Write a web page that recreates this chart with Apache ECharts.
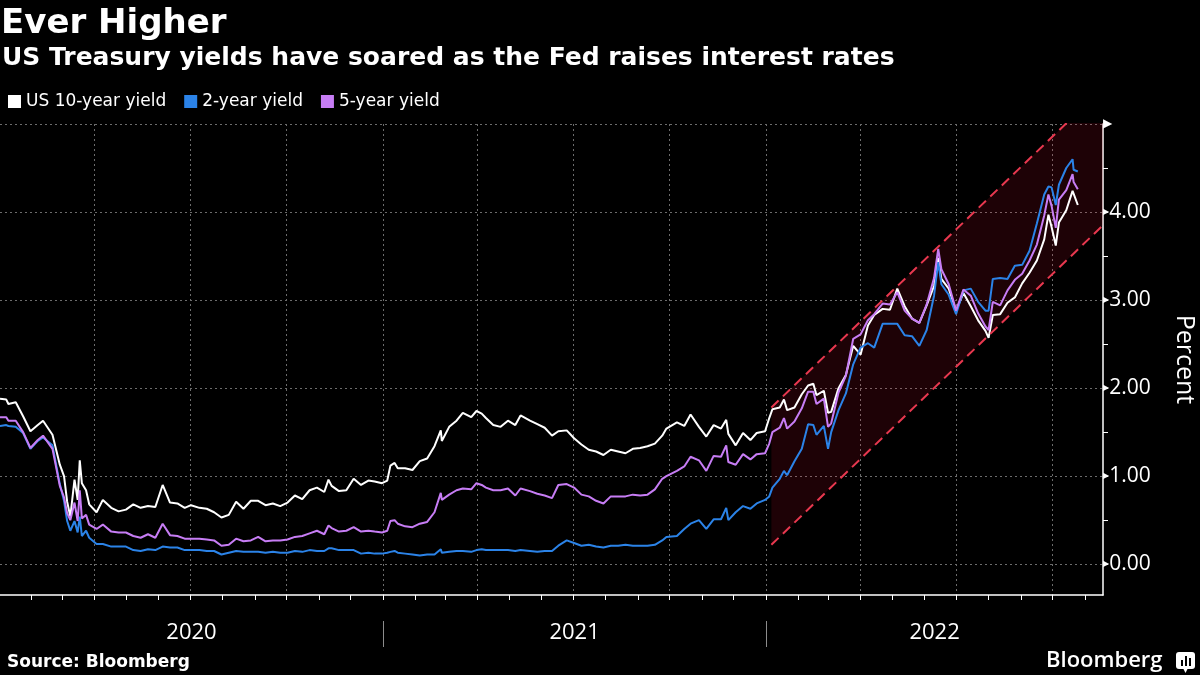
<!DOCTYPE html>
<html><head><meta charset="utf-8">
<script src="https://cdn.jsdelivr.net/npm/echarts@6/dist/echarts.min.js"></script>
<style>html,body{margin:0;padding:0;background:#000}#c{width:1200px;height:675px}</style>
</head><body><div id="c"></div>
<script>
const dates = [
'2020-01-02','2020-01-08','2020-01-10','2020-01-17','2020-01-24','2020-01-31','2020-02-07','2020-02-12','2020-02-21','2020-02-28',
'2020-03-03','2020-03-06','2020-03-09','2020-03-13','2020-03-16','2020-03-18','2020-03-20','2020-03-24','2020-03-27','2020-04-03',
'2020-04-09','2020-04-17','2020-04-24','2020-05-01','2020-05-08','2020-05-15','2020-05-22','2020-05-29','2020-06-05','2020-06-12',
'2020-06-19','2020-06-26','2020-07-02','2020-07-10','2020-07-17','2020-07-24','2020-07-31','2020-08-07','2020-08-14','2020-08-21',
'2020-08-28','2020-09-04','2020-09-11','2020-09-18','2020-09-25','2020-10-02','2020-10-09','2020-10-16','2020-10-23','2020-10-30',
'2020-11-06','2020-11-10','2020-11-13','2020-11-20','2020-11-27','2020-12-04','2020-12-11','2020-12-18','2020-12-24','2020-12-31',
'2021-01-05','2021-01-08','2021-01-12','2021-01-15','2021-01-22','2021-01-29','2021-02-05','2021-02-12','2021-02-19','2021-02-25',
'2021-02-26','2021-03-05','2021-03-12','2021-03-18','2021-03-26','2021-03-31','2021-04-05','2021-04-09','2021-04-16','2021-04-23',
'2021-04-30','2021-05-07','2021-05-12','2021-05-21','2021-05-28','2021-06-04','2021-06-11','2021-06-17','2021-06-25','2021-07-02',
'2021-07-09','2021-07-16','2021-07-23','2021-07-30','2021-08-06','2021-08-13','2021-08-20','2021-08-27','2021-09-03','2021-09-10',
'2021-09-17','2021-09-24','2021-09-28','2021-10-08','2021-10-15','2021-10-21','2021-10-29','2021-11-05','2021-11-12','2021-11-19',
'2021-11-24','2021-11-26','2021-12-03','2021-12-10','2021-12-17','2021-12-23','2021-12-31',
'2022-01-04','2022-01-07','2022-01-14','2022-01-18','2022-01-21','2022-01-28','2022-02-04','2022-02-10','2022-02-15','2022-02-18',
'2022-02-25','2022-03-01','2022-03-04','2022-03-11','2022-03-18','2022-03-25','2022-04-01','2022-04-08','2022-04-14','2022-04-22',
'2022-04-29','2022-05-06','2022-05-13','2022-05-20','2022-05-27','2022-06-03','2022-06-10','2022-06-14','2022-06-17','2022-06-24',
'2022-07-01','2022-07-08','2022-07-15','2022-07-22','2022-07-29','2022-08-01','2022-08-05','2022-08-12','2022-08-19','2022-08-26',
'2022-09-02','2022-09-09','2022-09-16','2022-09-23','2022-09-27','2022-09-30','2022-10-04','2022-10-07','2022-10-14','2022-10-20',
'2022-10-21','2022-10-25'
];
const us10y = [
1.88,1.87,1.82,1.84,1.68,1.51,1.58,1.63,1.47,1.13,
1.00,0.71,0.54,0.96,0.73,1.18,0.92,0.84,0.68,0.59,
0.73,0.64,0.60,0.62,0.68,0.64,0.66,0.65,0.90,0.70,
0.69,0.64,0.67,0.64,0.63,0.59,0.53,0.56,0.71,0.63,
0.72,0.72,0.67,0.69,0.66,0.70,0.78,0.74,0.84,0.87,
0.82,0.96,0.89,0.83,0.84,0.97,0.90,0.95,0.94,0.92,
0.95,1.12,1.15,1.09,1.09,1.07,1.17,1.20,1.34,1.52,
1.40,1.56,1.63,1.72,1.67,1.74,1.71,1.66,1.58,1.56,
1.63,1.58,1.69,1.63,1.59,1.55,1.46,1.51,1.52,1.43,
1.36,1.30,1.28,1.24,1.30,1.28,1.26,1.31,1.32,1.34,
1.37,1.46,1.54,1.61,1.57,1.70,1.56,1.45,1.58,1.54,
1.64,1.48,1.35,1.49,1.41,1.49,1.51,
1.66,1.76,1.78,1.87,1.75,1.78,1.93,2.03,2.05,1.92,
1.97,1.72,1.73,2.00,2.15,2.48,2.38,2.71,2.83,2.90,
2.89,3.13,2.93,2.79,2.74,2.94,3.16,3.48,3.24,3.13,
2.88,3.08,2.93,2.77,2.65,2.57,2.83,2.84,2.97,3.03,
3.19,3.31,3.45,3.69,3.97,3.83,3.62,3.88,4.02,4.24,
4.22,4.08
];
const us2y = [
1.57,1.58,1.57,1.56,1.49,1.31,1.40,1.44,1.35,0.91,
0.72,0.49,0.38,0.49,0.36,0.54,0.32,0.38,0.30,0.23,
0.23,0.20,0.20,0.20,0.16,0.15,0.17,0.16,0.20,0.19,
0.19,0.16,0.16,0.16,0.15,0.15,0.11,0.13,0.15,0.14,
0.14,0.14,0.13,0.14,0.13,0.13,0.15,0.14,0.16,0.15,
0.15,0.18,0.18,0.16,0.16,0.16,0.12,0.13,0.12,0.12,
0.13,0.14,0.15,0.13,0.12,0.11,0.10,0.11,0.11,0.17,
0.13,0.14,0.15,0.15,0.14,0.16,0.17,0.16,0.16,0.16,
0.16,0.15,0.16,0.15,0.14,0.15,0.15,0.21,0.27,0.24,
0.21,0.22,0.20,0.19,0.21,0.21,0.22,0.21,0.21,0.21,
0.22,0.27,0.31,0.32,0.40,0.46,0.50,0.40,0.51,0.51,
0.64,0.50,0.59,0.66,0.63,0.69,0.73,
0.77,0.87,0.97,1.06,1.01,1.17,1.31,1.59,1.58,1.47,
1.57,1.31,1.50,1.75,1.94,2.27,2.46,2.51,2.46,2.73,
2.73,2.73,2.60,2.59,2.48,2.66,3.05,3.43,3.18,3.06,
2.84,3.11,3.13,2.98,2.88,2.88,3.24,3.25,3.24,3.39,
3.40,3.56,3.87,4.20,4.29,4.28,4.08,4.31,4.50,4.60,
4.48,4.46
];
const us5y = [
1.67,1.67,1.63,1.63,1.50,1.32,1.41,1.46,1.31,0.89,
0.76,0.58,0.50,0.70,0.49,0.84,0.52,0.56,0.45,0.40,
0.45,0.37,0.36,0.36,0.32,0.30,0.34,0.30,0.46,0.33,
0.32,0.29,0.29,0.29,0.28,0.27,0.21,0.22,0.29,0.26,
0.27,0.31,0.26,0.27,0.27,0.28,0.31,0.32,0.35,0.38,
0.34,0.44,0.41,0.37,0.38,0.42,0.37,0.38,0.37,0.36,
0.38,0.49,0.50,0.46,0.43,0.42,0.46,0.48,0.59,0.81,
0.73,0.79,0.84,0.86,0.85,0.92,0.90,0.87,0.84,0.84,
0.86,0.78,0.86,0.83,0.80,0.78,0.75,0.90,0.91,0.87,
0.79,0.77,0.72,0.69,0.77,0.77,0.77,0.79,0.78,0.79,
0.85,0.97,1.00,1.06,1.11,1.22,1.18,1.06,1.23,1.22,
1.35,1.16,1.13,1.25,1.19,1.25,1.26,
1.37,1.50,1.55,1.66,1.54,1.62,1.77,1.96,1.96,1.82,
1.88,1.56,1.60,1.95,2.14,2.56,2.61,2.77,2.84,2.96,
2.95,3.09,2.88,2.79,2.74,2.95,3.25,3.58,3.35,3.18,
2.88,3.12,3.05,2.85,2.70,2.66,2.98,2.94,3.11,3.23,
3.30,3.45,3.63,3.96,4.20,4.07,3.82,4.14,4.25,4.43,
4.34,4.26
];
const channelDates = ['2022-01-06', '2022-11-18'];
const channelLow = [0.22, 3.85];
const channelHigh = [1.78, 5.41];
const yearLabels = ['2020', '2021', '2022'];
const yTickValues = [0, 1, 2, 3, 4];

const FF = "'Open Sans', 'Liberation Sans', sans-serif";
const FB = "'DejaVu Sans', sans-serif";
function toTs(s) { const p = s.split('-').map(Number); return new Date(p[0], p[1] - 1, p[2] || 1).getTime(); }
const xMin = toTs('2020-01-02');
const xMax = toTs('2022-11-18');
const monthTicks = [], quarterTicks = [];
for (let y = 2020; y <= 2022; y++) {
  for (let m = 0; m < 12; m++) {
    const t = new Date(y, m, 1).getTime();
    if (t <= xMin || t > xMax) continue;
    monthTicks.push(t);
    if (m % 3 === 0) quarterTicks.push(t);
  }
}
const yearBounds = [toTs('2021-01-01'), toTs('2022-01-01')];
const yearMids = yearLabels.map(y => {
  const a = Math.max(toTs(y + '-01-01'), xMin);
  const b = Math.min(toTs((+y + 1) + '-01-01'), xMax);
  return Math.round((a + b) / 2);
});
const mk = arr => dates.map((d, i) => [toTs(d), arr[i]]);
const dotted = { color: '#6c6c6c', type: [2, 3], width: 1 };
const RED = '#e8384f';
const hiddenX = { axisLine: { show: false, onZero: false }, axisLabel: { show: false }, splitLine: { show: false } };

const chart = echarts.init(document.getElementById('c'), null, { renderer: 'canvas' });
chart.setOption({
  backgroundColor: '#000',
  animation: false,
  title: [
    { text: 'Ever Higher', left: 1, top: 7, padding: 0, textStyle: { color: '#fff', fontSize: 34, fontWeight: 'bold', fontFamily: FB } },
    { text: 'US Treasury yields have soared as the Fed raises interest rates', left: 2, top: 46, padding: 0, textStyle: { color: '#fff', fontSize: 25, fontWeight: 'bold', fontFamily: FB } },
    { text: 'Source: Bloomberg', left: 7, top: 654, padding: 0, textStyle: { color: '#fff', fontSize: 17, fontWeight: 'bold', fontFamily: FB } }
  ],
  legend: {
    data: ['US 10-year yield', '2-year yield', '5-year yield'],
    left: 8, top: 93, padding: 0, icon: 'rect', itemWidth: 13, itemHeight: 13, itemGap: 18,
    textStyle: { color: '#fff', fontSize: 17, fontFamily: FB }
  },
  grid: { left: 0, right: 97, top: 124, bottom: 80, containLabel: false, outerBoundsMode: 'none' },
  xAxis: [
    { type: 'time', min: xMin, max: xMax, position: 'bottom',
      axisLine: { show: true, onZero: false, lineStyle: { color: '#fff', width: 1.5 } },
      axisTick: { show: false }, axisLabel: { show: false }, splitLine: { show: false } },
    Object.assign({ type: 'value', min: xMin, max: xMax, position: 'bottom', scale: true,
      axisTick: { show: true, length: 5, lineStyle: { color: '#fff' }, customValues: monthTicks } }, hiddenX),
    { type: 'value', min: xMin, max: xMax, position: 'bottom', scale: true,
      axisLine: { show: false, onZero: false }, axisTick: { show: false, customValues: quarterTicks },
      axisLabel: { show: false }, splitLine: { show: true, lineStyle: dotted } },
    { type: 'value', min: xMin, max: xMax, position: 'bottom', offset: 26, scale: true,
      axisLine: { show: false, onZero: false },
      axisTick: { show: true, length: 26, lineStyle: { color: '#8c8c8c', width: 1 }, customValues: yearBounds },
      axisLabel: { show: true, customValues: yearMids, margin: 1, color: '#fff', fontSize: 22, fontFamily: FF,
        formatter: v => String(new Date(v).getFullYear()) },
      splitLine: { show: false } }
  ],
  yAxis: [
    { type: 'value', position: 'right', min: -0.35, max: 5,
      axisLine: { show: true, onZero: false, lineStyle: { color: '#fff', width: 1.5 } },
      axisTick: { show: true, length: 5, lineStyle: { color: '#fff' }, customValues: [0, 0.5, 1, 1.5, 2, 2.5, 3, 3.5, 4, 4.5] },
      axisLabel: { show: true, customValues: yTickValues.concat([5]), margin: 0, color: '#fff', fontSize: 21, fontFamily: FF,
        formatter: v => v === 5 ? '{big|▶}' : '{t|▶}' + v.toFixed(2),
        rich: { t: { fontSize: 8, color: '#fff', fontFamily: 'DejaVu Sans' }, big: { fontSize: 12, color: '#fff', fontFamily: 'DejaVu Sans' } } },
      splitLine: { show: false },
      name: 'Percent', nameLocation: 'middle', nameRotate: -90, nameGap: 69,
      nameTextStyle: { color: '#fff', fontSize: 25, fontFamily: FF } },
    { type: 'value', position: 'right', min: -0.35, max: 5,
      axisLine: { show: false, onZero: false }, axisTick: { show: false, customValues: [0, 1, 2, 3, 4, 5] },
      axisLabel: { show: false }, splitLine: { show: true, lineStyle: dotted } }
  ],
  series: [
    { name: 'US 10-year yield', type: 'line', data: mk(us10y), symbol: 'none', showSymbol: false,
      lineStyle: { color: '#ffffff', width: 2 }, itemStyle: { color: '#ffffff' } },
    { name: '2-year yield', type: 'line', data: mk(us2y), symbol: 'none', showSymbol: false,
      lineStyle: { color: '#2b83e8', width: 2 }, itemStyle: { color: '#2b83e8' } },
    { name: '5-year yield', type: 'line', data: mk(us5y), symbol: 'none', showSymbol: false,
      lineStyle: { color: '#c77df5', width: 2 }, itemStyle: { color: '#c77df5' } },
    { name: 'channelLow', type: 'line', stack: 'channel', silent: true, symbol: 'none', clip: true,
      data: channelDates.map((d, i) => [toTs(d), channelLow[i]]),
      lineStyle: { color: RED, width: 2, type: [10, 6] } },
    { name: 'channelBand', type: 'line', stack: 'channel', silent: true, symbol: 'none', clip: true,
      data: channelDates.map((d, i) => [toTs(d), channelHigh[i] - channelLow[i]]),
      lineStyle: { color: RED, width: 2, type: [10, 6] },
      areaStyle: { color: 'rgba(255,20,55,0.17)' } }
  ],
  graphic: [
    { type: 'text', left: 1046, top: 650, style: { text: 'Bloomberg', fill: '#fff', fontSize: 22, fontWeight: 600, fontFamily: FF } },
    { type: 'group', left: 1176, top: 652, children: [
      { type: 'rect', shape: { x: 0, y: 0, width: 19, height: 17, r: 3 }, style: { fill: '#fff' } },
      { type: 'polygon', shape: { points: [[7, 16], [12, 16], [9.5, 21]] }, style: { fill: '#fff' } },
      { type: 'rect', shape: { x: 5, y: 8, width: 2, height: 6 }, style: { fill: '#000' } },
      { type: 'rect', shape: { x: 9, y: 4, width: 2, height: 10 }, style: { fill: '#000' } },
      { type: 'rect', shape: { x: 13, y: 6, width: 2, height: 8 }, style: { fill: '#000' } }
    ] }
  ]
});
</script>
</body></html>
